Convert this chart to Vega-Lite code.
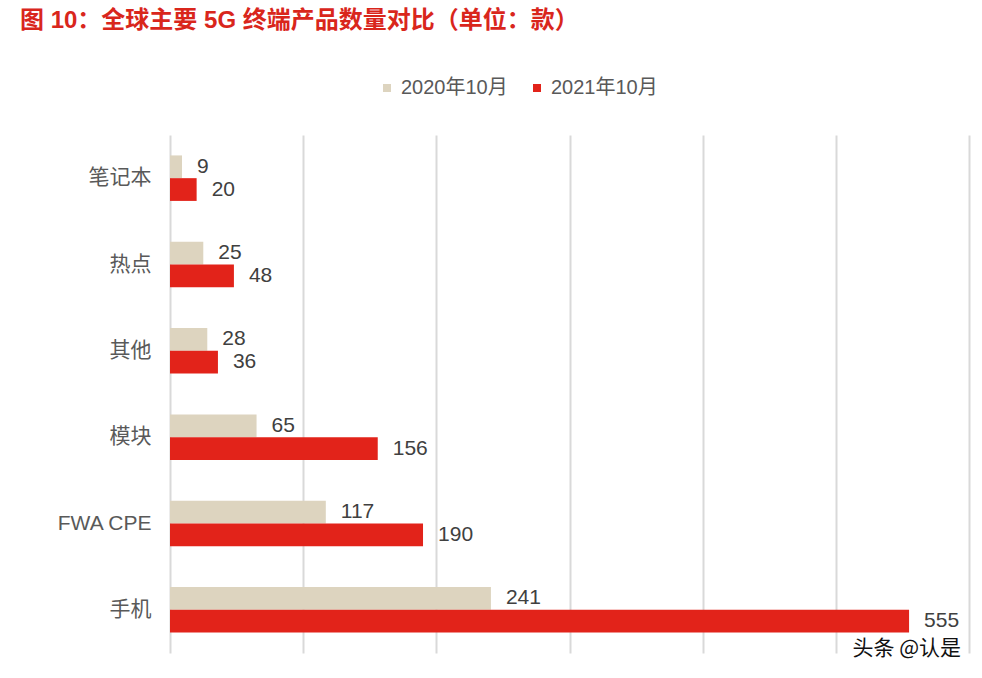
{
  "$schema": "https://vega.github.io/schema/vega-lite/v6.json",
  "width": 799,
  "height": 518,
  "autosize": "none",
  "padding": {"left": 170, "top": 135, "right": 13, "bottom": 25},
  "background": "white",
  "title": {
    "text": "图 10：全球主要 5G 终端产品数量对比（单位：款）",
    "anchor": "start",
    "frame": "group",
    "dx": -150,
    "offset": 45,
    "font": "Liberation Sans, Noto Sans CJK SC",
    "fontSize": 24,
    "fontWeight": "bold",
    "color": "#D9261C"
  },
  "config": {
    "view": {"stroke": null},
    "font": "Liberation Sans, Noto Sans CJK SC"
  },
  "data": {
    "values": [
      {"cat": "笔记本", "series": "2020年10月", "value": 9},
      {"cat": "笔记本", "series": "2021年10月", "value": 20},
      {"cat": "热点", "series": "2020年10月", "value": 25},
      {"cat": "热点", "series": "2021年10月", "value": 48},
      {"cat": "其他", "series": "2020年10月", "value": 28},
      {"cat": "其他", "series": "2021年10月", "value": 36},
      {"cat": "模块", "series": "2020年10月", "value": 65},
      {"cat": "模块", "series": "2021年10月", "value": 156},
      {"cat": "FWA CPE", "series": "2020年10月", "value": 117},
      {"cat": "FWA CPE", "series": "2021年10月", "value": 190},
      {"cat": "手机", "series": "2020年10月", "value": 241},
      {"cat": "手机", "series": "2021年10月", "value": 555}
    ]
  },
  "encoding": {
    "y": {
      "field": "cat",
      "type": "nominal",
      "sort": ["笔记本", "热点", "其他", "模块", "FWA CPE", "手机"],
      "scale": {"paddingInner": 0.473, "paddingOuter": 0.2365},
      "axis": {
        "title": null,
        "domain": false,
        "ticks": false,
        "labelPadding": 19,
        "labelFontSize": 21,
        "labelColor": "#595959",
        "labelFont": "Liberation Sans, Noto Sans CJK SC"
      }
    },
    "x": {
      "field": "value",
      "type": "quantitative",
      "scale": {"domain": [0, 600], "nice": false},
      "axis": {
        "title": null,
        "values": [0, 100, 200, 300, 400, 500, 600],
        "labels": false,
        "ticks": false,
        "domain": false,
        "grid": true,
        "gridColor": "#D9D9D9",
        "gridWidth": 2
      }
    }
  },
  "layer": [
    {
      "mark": {"type": "bar"},
      "encoding": {
        "yOffset": {"field": "series", "type": "nominal", "scale": {"paddingInner": 0, "paddingOuter": 0}},
        "color": {
          "field": "series",
          "type": "nominal",
          "scale": {"domain": ["2020年10月", "2021年10月"], "range": ["#DDD4BF", "#E2231A"]},
          "legend": {
            "title": null,
            "orient": "none",
            "direction": "horizontal",
            "legendX": 207,
            "legendY": -57,
            "symbolType": "square",
            "symbolSize": 64,
            "symbolStrokeWidth": 0,
            "labelFontSize": 20,
            "labelColor": "#595959",
            "labelOffset": 4,
            "columnPadding": 19,
            "labelFont": "Liberation Sans, Noto Sans CJK SC"
          }
        }
      }
    },
    {
      "mark": {"type": "text", "align": "left", "baseline": "middle", "dx": 15, "fontSize": 21, "color": "#404040"},
      "encoding": {
        "yOffset": {"field": "series", "type": "nominal", "scale": {"paddingInner": 0, "paddingOuter": 0}},
        "text": {"field": "value", "type": "quantitative"}
      }
    },
    {
      "data": {"values": [{"cat": "手机", "value": 600, "mark": "头条 @认是"}]},
      "mark": {"type": "text", "align": "right", "baseline": "middle", "dx": -8, "dy": 39, "fontSize": 21, "font": "Noto Sans CJK SC", "color": "#111111"},
      "encoding": {
        "text": {"field": "mark", "type": "nominal"}
      }
    }
  ]
}
